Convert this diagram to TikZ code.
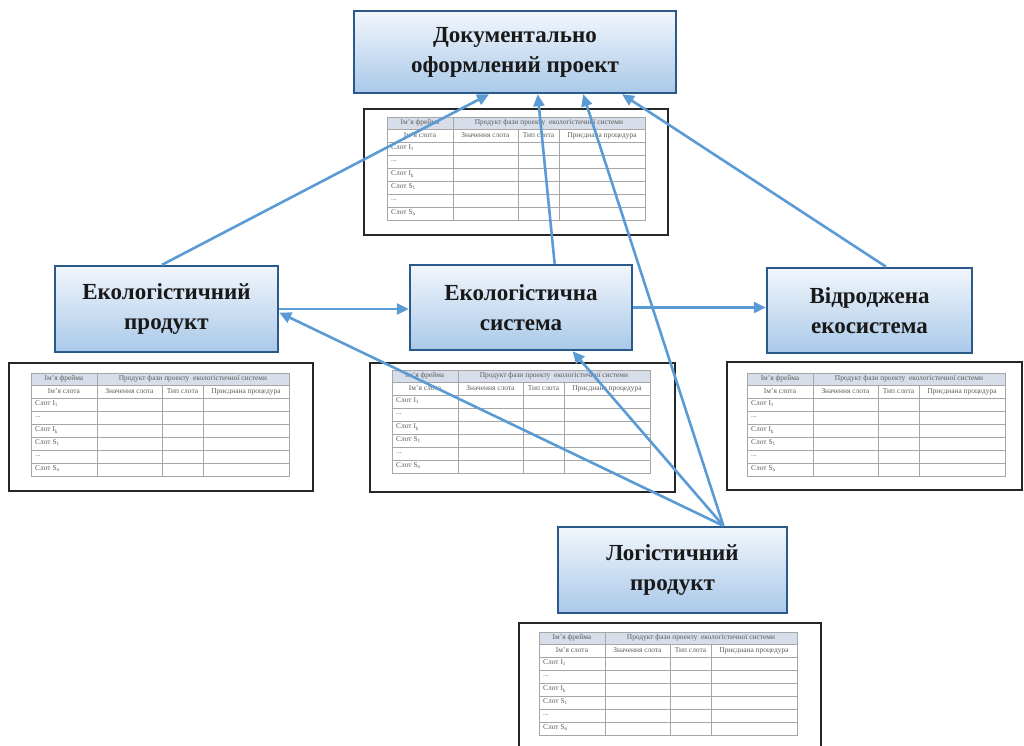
\documentclass[tikz,border=0pt]{standalone}
\usepackage{fontspec}
\setmainfont{Liberation Serif}
\usetikzlibrary{arrows.meta,calc}

\definecolor{arrowblue}{HTML}{5B9BD5}
\definecolor{boxedge}{HTML}{2B5A8A}
\definecolor{boxtop}{HTML}{F2F6FC}
\definecolor{boxbottom}{HTML}{A9C9E9}
\definecolor{headfill}{HTML}{D7DEE9}
\definecolor{gridgray}{HTML}{A6A6A6}
\definecolor{celltext}{HTML}{5A5A5A}

\begin{document}
\begin{tikzpicture}[x=1pt,y=-1pt,
  conceptbox/.style={draw=boxedge, line width=2.4pt, top color=boxtop,
    bottom color=boxbottom, font=\fontsize{23}{30}\selectfont\bfseries,
    text=black!90, align=center, inner sep=0pt},
  framebox/.style={draw=black!85, line width=1.6pt, fill=white, inner sep=0pt},
  link/.style={draw=arrowblue, line width=2.6pt,
    -{Triangle[length=12pt,width=11pt]}},
  celltxt/.style={font=\fontsize{7.4}{8}\selectfont, text=celltext, inner sep=0pt},
  gridline/.style={draw=gridgray, line width=0.6pt},
  slottable/.pic={
    % frame table: header row, slot header row and six slot rows
    \fill[headfill] (0,0) rectangle (258,12);
    \draw[gridline] (0,0) rectangle (258,103);
    \foreach \yy in {12,25,38,51,64,77,90}
      \draw[gridline] (0,\yy) -- (258,\yy);
    \draw[gridline] (66,0) -- (66,103);
    \draw[gridline] (131,12) -- (131,103);
    \draw[gridline] (172,12) -- (172,103);
    \node[celltxt] (-fname) at (33,6) {Ім'я фрейма};
    \node[celltxt] (-fval) at (162,6) {Продукт фази проекту\ \ екологістичної системи};
    \node[celltxt] (-sname) at (33,18.5) {Ім'я слота};
    \node[celltxt] (-sval) at (98.5,18.5) {Значення слота};
    \node[celltxt] (-stype) at (151.5,18.5) {Тип слота};
    \node[celltxt] (-sproc) at (215,18.5) {Приєднана процедура};
    \node[celltxt, anchor=west] (-r1) at (4,31) {Слот I\textsubscript{1}};
    \node[celltxt, anchor=west] (-r2) at (4,44) {...};
    \node[celltxt, anchor=west] (-r3) at (4,57) {Слот I\textsubscript{k}};
    \node[celltxt, anchor=west] (-r4) at (4,70) {Слот S\textsubscript{1}};
    \node[celltxt, anchor=west] (-r5) at (4,83) {...};
    \node[celltxt, anchor=west] (-r6) at (4,96) {Слот S\textsubscript{n}};
  }
]
\useasboundingbox (0,0) rectangle (1024,745);
\clip (0,0) rectangle (1024,745);

% frames holding the slot tables
\node[framebox, minimum width=304pt, minimum height=126pt] (frtop) at (516,172) {};
\node[framebox, minimum width=304pt, minimum height=128pt] (frleft) at (161,427) {};
\node[framebox, minimum width=305pt, minimum height=129pt] (frmid) at (522.5,427.5) {};
\node[framebox, minimum width=295pt, minimum height=128pt] (frright) at (874.5,426) {};
\node[framebox, minimum width=302pt, minimum height=137pt] (frbot) at (670,691.5) {};

\pic (ttop) at (387,117) {slottable};
\pic (tleft) at (31,373) {slottable};
\pic (tmid) at (392,370) {slottable};
\pic (tright) at (747,373) {slottable};
\pic (tbot) at (539,632) {slottable};

% concept boxes
\node[conceptbox, minimum width=322pt, minimum height=82pt] (doc) at (515,52)
  {Документально\\оформлений проект};
\node[conceptbox, minimum width=223pt, minimum height=86pt] (ep) at (166.5,309)
  {Екологістичний\\продукт};
\node[conceptbox, minimum width=222pt, minimum height=85pt] (es) at (521,307.5)
  {Екологістична\\система};
\node[conceptbox, minimum width=205pt, minimum height=85pt] (ve) at (869.5,310.5)
  {Відроджена\\екосистема};
\node[conceptbox, minimum width=229pt, minimum height=86pt] (lp) at (672.5,570)
  {Логістичний\\продукт};

% connectors
\draw[link] ($(ep.north west)!0.48!(ep.north east)$) -- ($(doc.south west)!0.42!(doc.south east)$);
\draw[link] ($(es.north west)!0.65!(es.north east)$) -- ($(doc.south west)!0.57!(doc.south east)$);
\draw[link] ($(lp.north west)!0.72!(lp.north east)$) -- ($(doc.south west)!0.71!(doc.south east)$);
\draw[link] ($(ve.north west)!0.58!(ve.north east)$) -- ($(doc.south west)!0.83!(doc.south east)$);
\draw[link] (ep.east) -- (ep.east -| es.west);
\draw[link] (es.east) -- (es.east -| ve.west);
\draw[link] ($(lp.north west)!0.72!(lp.north east)$) -- ($(es.south west)!0.73!(es.south east)$);
\draw[link] ($(lp.north west)!0.72!(lp.north east)$) -- ($(ep.north east)!0.54!(ep.south east)$);
\end{tikzpicture}
\end{document}
